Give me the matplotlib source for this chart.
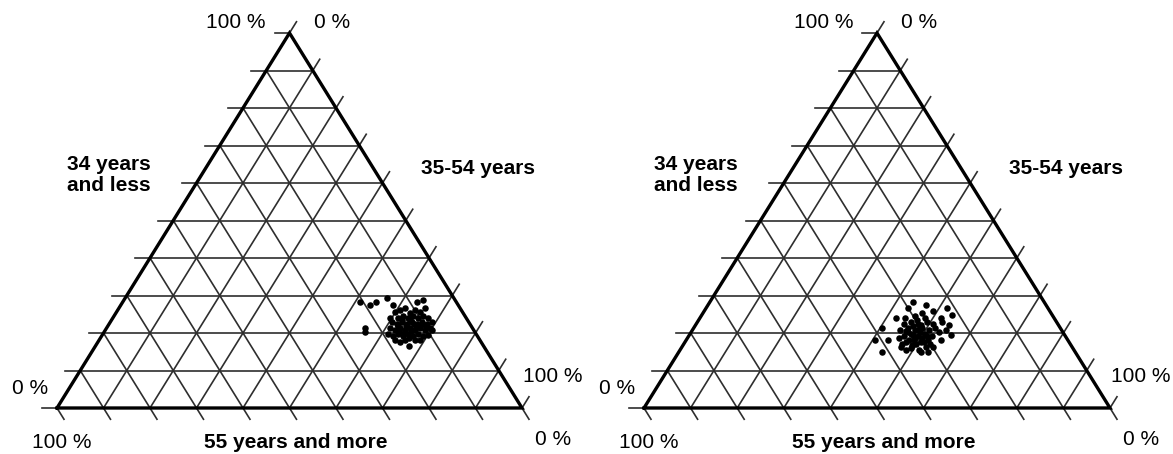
import matplotlib.pyplot as plt
import numpy as np

plt.rcParams['font.family'] = ['Liberation Sans', 'DejaVu Sans']

# Age structure per unit, in % : "34 years and less" and "35-54 years"
# ("55 years and more" is the remainder up to 100 %)
young_left = [28.3, 27.5, 28.3, 29.3, 27.5, 28.3, 28.8, 21.3, 20.3, 16.5,
              17.6, 19.5, 25.6, 26.1, 26.7, 25.3, 26.1, 25.6, 26.7, 24.0,
              24.5, 24.0, 24.5, 24.0, 24.5, 24.0, 22.9, 22.4, 22.9, 22.4,
              22.9, 22.4, 22.9, 22.4, 22.9, 21.3, 20.8, 21.3, 20.8, 21.3,
              20.8, 21.3, 20.8, 21.3, 19.7, 19.2, 19.7, 19.2, 19.7, 19.2,
              19.7, 19.2, 18.1, 18.1, 18.1, 18.1, 23.5, 20.5, 21.9, 21.6,
              20.5, 22.1, 23.5, 20.0, 22.4, 21.9, 21.9, 18.7, 20.8, 24.0]
middle_left = [51.0, 53.6, 54.5, 56.3, 58.5, 63.3, 64.3, 55.6, 56.1, 67.4,
               65.0, 70.0, 59.9, 60.7, 61.5, 63.3, 63.9, 65.3, 65.8, 61.3,
               62.2, 63.5, 64.3, 65.6, 66.5, 67.8, 60.6, 61.9, 62.8, 64.1,
               64.9, 66.2, 67.1, 68.4, 69.2, 61.0, 62.3, 63.1, 64.4, 65.3,
               66.6, 67.4, 68.7, 69.6, 61.3, 62.7, 63.5, 64.8, 65.6, 67.0,
               67.8, 69.1, 63.6, 65.8, 67.9, 69.0, 62.5, 65.9, 64.1, 66.4,
               63.3, 67.2, 64.2, 64.6, 65.6, 62.4, 68.4, 66.3, 70.2, 59.6]

young_right = [28.3, 26.7, 27.5, 25.9, 26.7, 24.8, 24.0, 22.1, 22.9, 19.5,
               21.3, 18.1, 18.1, 14.9, 16.3, 16.3, 18.1, 24.0, 24.5, 24.0,
               22.4, 22.9, 22.4, 22.9, 22.4, 20.8, 21.3, 20.8, 21.3, 20.8,
               21.3, 19.2, 19.7, 19.2, 19.7, 19.2, 17.6, 18.1, 17.6, 18.1,
               16.0, 15.5, 16.3, 21.9, 20.3, 18.7, 18.7, 20.3, 17.1, 17.1,
               20.3, 23.5, 25.3, 16.8, 18.7, 24.0, 14.9, 15.5, 20.8, 14.9,
               19.5, 21.1, 17.6, 18.1, 17.1, 19.2, 20.5, 22.1]
middle_right = [43.5, 43.4, 46.7, 49.0, 51.6, 53.6, 42.0, 54.3, 52.6, 56.1,
                40.5, 40.6, 43.4, 43.7, 46.9, 53.8, 54.6, 44.1, 46.0, 48.4,
                44.5, 45.8, 47.7, 49.2, 50.9, 44.6, 45.9, 47.7, 48.9, 50.7,
                51.9, 46.1, 47.4, 49.1, 50.4, 52.1, 47.5, 48.8, 50.6, 51.8,
                49.2, 51.2, 52.3, 46.7, 49.0, 48.9, 50.4, 46.6, 52.9, 46.9,
                53.1, 46.8, 47.1, 49.2, 45.3, 51.7, 51.9, 48.4, 54.3, 53.6,
                47.9, 48.4, 51.2, 47.9, 49.9, 51.1, 45.9, 48.3]

levels = np.arange(0, 11) / 10
tick_h = 0.032   # length of the ticks on the left side
tick = 0.03      # length of the ticks on the right side and the base
grid_c = '#2e2e2e'


def to_xy(young, middle):
    a = np.asarray(young) / 100
    b = np.asarray(middle) / 100
    return b + a / 2, a


def draw_panel(ax, young, middle):
    ax.set_xlim(0, 1)
    ax.set_ylim(0, 1)
    ax.axis('off')
    for k in levels:
        # equal share of "34 years and less"
        ax.plot([k / 2 - tick_h, 1 - k / 2], [k, k], color=grid_c, lw=1.2, clip_on=False)
        # equal share of "35-54 years"
        ax.plot([k, k + (1 - k) / 2 + tick / 2], [0, 1 - k + tick],
                color=grid_c, lw=1.2, clip_on=False)
        # equal share of "55 years and more"
        ax.plot([(1 - k) / 2, 1 - k + tick / 2], [1 - k, -tick],
                color=grid_c, lw=1.2, clip_on=False)
    ax.plot([0, 1, 0.5, 0], [0, 0, 1, 0], color='black', lw=2.4,
            solid_joinstyle='miter', clip_on=False)
    x, y = to_xy(young, middle)
    ax.scatter(x, y, s=22, color='black', linewidths=0, zorder=3, clip_on=False)

    fs = 15
    ax.text(0.385, 1.029, '100 %', ha='center', va='center', fontsize=fs)
    ax.text(0.591, 1.029, '0 %', ha='center', va='center', fontsize=fs)
    ax.text(0.0215, 0.621, '34 years\nand less', ha='left', va='center',
            fontsize=fs, fontweight='bold', linespacing=1.15)
    ax.text(0.905, 0.64, '35-54 years', ha='center', va='center',
            fontsize=fs, fontweight='bold')
    ax.text(-0.058, 0.053, '0 %', ha='center', va='center', fontsize=fs)
    ax.text(0.011, -0.093, '100 %', ha='center', va='center', fontsize=fs)
    ax.text(0.514, -0.093, '55 years and more', ha='center', va='center',
            fontsize=fs, fontweight='bold')
    ax.text(1.067, 0.085, '100 %', ha='center', va='center', fontsize=fs)
    ax.text(1.067, -0.085, '0 %', ha='center', va='center', fontsize=fs)


W, H = 1173, 454
fig = plt.figure(figsize=(W / 100, H / 100), dpi=100)
ax1 = fig.add_axes([57 / W, (H - 408) / H, 465 / W, 375 / H])
ax2 = fig.add_axes([644 / W, (H - 408) / H, 466 / W, 375 / H])

draw_panel(ax1, young_left, middle_left)
draw_panel(ax2, young_right, middle_right)

fig.savefig('out.png', dpi=100)
